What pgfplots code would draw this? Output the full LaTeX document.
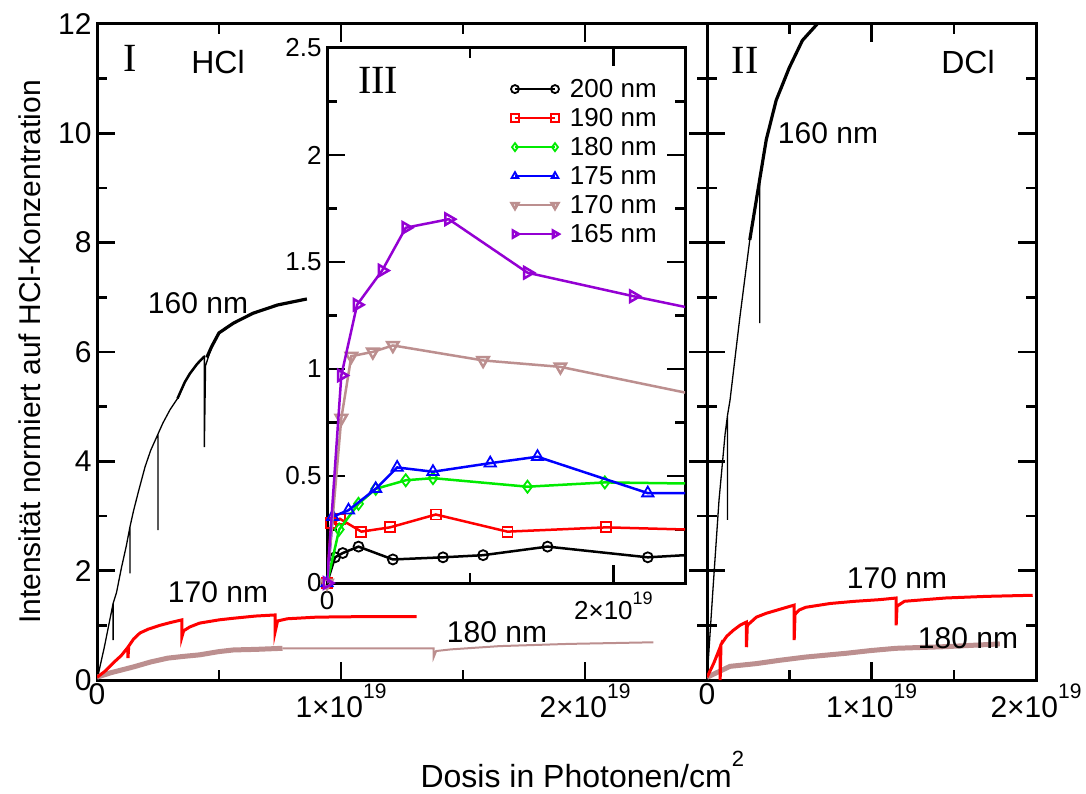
\documentclass[border=0pt]{standalone}
\usepackage{fontspec}
\setmainfont{Liberation Sans}
\newfontfamily\serif{Liberation Serif}
\usepackage{pgfplots}
\pgfplotsset{compat=1.18}
\definecolor{rb}{RGB}{188,143,143}
\definecolor{dv}{RGB}{148,0,211}
\definecolor{gr}{RGB}{0,235,0}
\newcommand\ex[1]{\raisebox{19pt}{\fontsize{21}{21}\selectfont #1}}
\newcommand\exs[1]{\raisebox{15pt}{\fontsize{18}{18}\selectfont #1}}
\begin{document}
\begin{tikzpicture}[x=1pt,y=1pt]
\path[use as bounding box] (0,0) rectangle (1086,793);
\pgfplotsset{
 base/.style={scale only axis, anchor=south west,
   axis line style={line width=3pt},
   tick style={black, line width=2.5pt},
   major tick length=18pt, minor tick length=10pt, tick align=inside,
   tick label style={font=\fontsize{30}{32}\selectfont},
   yticklabel style={xshift=-2pt},
   /pgf/number format/assume math mode=true},
}
% ---------------- Panel I
\begin{axis}[base, at={(97pt,113pt)}, width=610pt, height=656pt,
  xmin=0, xmax=2.5, ymin=0, ymax=12,
  xtick={0,1,2}, xticklabels={0,{1×10\ex{19}},{2×10\ex{19}}},
  minor xtick={0.5,1.5},
  ytick={0,2,4,6,8,10,12}, minor ytick={1,3,5,7,9,11}]
% 160 nm
\addplot[black, line width=1.3pt] coordinates {
(0,0) (0.03,0.6) (0.066,1.4) (0.066,0.73) (0.066,1.4) (0.08,1.6) (0.1,2.05) (0.12,2.45)
(0.135,2.8) (0.135,1.95) (0.135,2.8) (0.15,3.1) (0.17,3.45) (0.197,3.9) (0.22,4.2)
(0.25,4.5) (0.25,2.74) (0.25,4.5) (0.27,4.7) (0.3,4.95) (0.33,5.15) (0.36,5.45)
(0.38,5.6) (0.41,5.78) (0.44,5.92) (0.44,4.26) (0.445,5.75) (0.47,6.1) (0.5,6.35)
(0.56,6.53) (0.64,6.71) (0.74,6.86) (0.86,6.97)};
\addplot[black, line width=2.5pt] coordinates {
(0.33,5.15) (0.36,5.45) (0.38,5.6) (0.41,5.78) (0.44,5.92)};
\addplot[black, line width=3.2pt] coordinates {
(0.45,5.9) (0.47,6.1) (0.5,6.35) (0.56,6.53) (0.64,6.71) (0.74,6.86) (0.86,6.97)};
% 180 nm
\addplot[rb, line width=5pt] coordinates {
(0,0.05) (0.054,0.13) (0.15,0.24) (0.22,0.33) (0.29,0.4) (0.35,0.43) (0.42,0.46)
(0.5,0.52) (0.56,0.55) (0.65,0.56) (0.76,0.58)};
\addplot[rb, line width=2pt] coordinates {
(0.76,0.58) (1.0,0.58) (1.2,0.58) (1.38,0.58) (1.38,0.42) (1.39,0.53) (1.45,0.56)
(1.65,0.62) (1.93,0.66) (2.28,0.69)};
% 170 nm
\addplot[red, line width=3pt] coordinates {
(0,0.05) (0.03,0.15) (0.066,0.31) (0.1,0.45) (0.127,0.6) (0.127,0.4) (0.13,0.62)
(0.15,0.75) (0.176,0.86) (0.21,0.93) (0.258,1.0) (0.3,1.05) (0.348,1.1) (0.348,0.79)
(0.355,0.9) (0.38,0.97) (0.42,1.04) (0.5,1.1) (0.56,1.13) (0.65,1.17) (0.73,1.19)
(0.73,0.88) (0.74,1.08) (0.78,1.12) (0.9,1.15) (1.1,1.16) (1.31,1.16)};
\end{axis}
% ---------------- Panel II
\begin{axis}[base, at={(707pt,113pt)}, width=329pt, height=656pt,
  xmin=0, xmax=2, ymin=0, ymax=12,
  xtick={0,1,2}, xticklabels={0,{1×10\ex{19}},{2×10\ex{19}}},
  minor xtick={0.5,1.5},
  ytick={0,2,4,6,8,10,12}, minor ytick={1,3,5,7,9,11}, yticklabels={}]
\addplot[black, line width=1.3pt] coordinates {
(0,0) (0.036,1.65) (0.073,3.29) (0.11,4.5) (0.125,4.85) (0.125,2.93) (0.125,4.85)
(0.14,5.12) (0.2,6.64) (0.26,8.05) (0.32,9.15) (0.32,6.53) (0.32,9.15) (0.36,9.88)
(0.42,10.6) (0.5,11.2) (0.58,11.7) (0.67,12.0) (0.72,12.3)};
\addplot[black, line width=3.2pt] coordinates {
(0.26,8.05) (0.32,9.15) (0.36,9.88) (0.42,10.6) (0.5,11.2) (0.58,11.7) (0.67,12.0) (0.72,12.3)};
\addplot[rb, line width=5pt] coordinates {
(0,0.05) (0.14,0.25) (0.3,0.3) (0.44,0.36) (0.6,0.42) (0.85,0.49) (1.0,0.54)
(1.15,0.58) (1.45,0.61) (1.78,0.66)};
\addplot[red, line width=3pt] coordinates {
(0,0.05) (0.04,0.3) (0.08,0.6) (0.08,0) (0.085,0.65) (0.12,0.8) (0.16,0.91) (0.2,1.0)
(0.24,1.06) (0.24,0.6) (0.245,1.0) (0.3,1.15) (0.36,1.22) (0.45,1.3) (0.53,1.37)
(0.53,0.73) (0.535,1.2) (0.56,1.28) (0.6,1.33) (0.75,1.4) (0.9,1.44) (1.05,1.47)
(1.15,1.5) (1.15,1.0) (1.155,1.35) (1.2,1.44) (1.45,1.5) (1.7,1.53) (1.98,1.55)};
\end{axis}
% ---------------- Inset III
\begin{axis}[base, at={(327pt,210pt)}, width=358pt, height=535pt,
  axis background/.style={fill=white},
  clip mode=individual,
  xmin=0, xmax=2.5, ymin=0, ymax=2.5,
  tick label style={font=\fontsize{26}{28}\selectfont},
  xtick={0,2}, xticklabels={0,{2×10\exs{19}}}, minor xtick={1},
  ytick={0,0.5,1,1.5,2,2.5}, yticklabels={0,0.5,1,1.5,2,2.5},
  minor ytick={0.25,0.75,1.25,1.75,2.25},
  xticklabel style={yshift=-5pt},
  legend style={at={(0.505,0.946)}, anchor=north west, draw=none, fill=none,
    font=\fontsize{26}{28}\selectfont, row sep=9pt, column sep=11pt,
    nodes={inner sep=0pt, text height=18pt, text depth=2pt}},
  legend cell align=left,
  legend image code/.code={\draw[mark size=4pt] plot coordinates {(0pt,0pt) (40pt,0pt)};},
  every axis plot/.append style={line width=2.5pt, mark options={line width=1.8pt, solid}}]
\addplot[black, mark=o, mark size=5pt, mark indices={1,...,9}] coordinates {
(0,0) (0.056,0.12) (0.11,0.14) (0.22,0.17) (0.46,0.11) (0.81,0.12) (1.09,0.13) (1.54,0.17) (2.24,0.12) (2.5,0.13)};
\addlegendentry{200 nm}
\addplot[red, mark=square, mark size=5pt, mark indices={1,...,8}] coordinates {
(0,0) (0.03,0.28) (0.09,0.30) (0.24,0.24) (0.44,0.26) (0.76,0.32) (1.26,0.24) (1.95,0.26) (2.5,0.25)};
\addlegendentry{190 nm}
\addplot[gr, mark=diamond, mark size=6pt, mark indices={1,...,8}] coordinates {
(0,0) (0.085,0.25) (0.22,0.37) (0.34,0.44) (0.55,0.48) (0.74,0.49) (1.4,0.45) (1.94,0.47) (2.5,0.465)};
\addlegendentry{180 nm}
\addplot[blue, mark=triangle, mark size=6.5pt, mark indices={1,...,9}] coordinates {
(0,0) (0.04,0.31) (0.15,0.34) (0.34,0.44) (0.49,0.54) (0.74,0.52) (1.14,0.56) (1.47,0.59) (2.24,0.42) (2.5,0.42)};
\addlegendentry{175 nm}
\addplot[rb, mark=triangle, mark size=6.5pt, mark options={rotate=180}, mark indices={1,...,7}] coordinates {
(0,0) (0.1,0.77) (0.17,1.06) (0.32,1.08) (0.46,1.11) (1.09,1.04) (1.63,1.01) (2.5,0.89)};
\addlegendentry{170 nm}
\addplot[dv, mark=triangle, mark size=6.5pt, mark options={rotate=-90}, mark indices={1,...,8}] coordinates {
(0,0) (0.1,0.97) (0.21,1.30) (0.385,1.46) (0.55,1.66) (0.85,1.70) (1.4,1.45) (2.14,1.34) (2.5,1.29)};
\addlegendentry{165 nm}
\end{axis}
% ---------------- Texts
\node[font=\serif\fontsize{40}{40}\selectfont] at (130,735) {I};
\node[font=\fontsize{32}{32}\selectfont] at (218,731) {HCl};
\node[font=\fontsize{30}{30}\selectfont] at (198,490) {160 nm};
\node[font=\fontsize{30}{30}\selectfont] at (218,201) {170 nm};
\node[font=\fontsize{30}{30}\selectfont] at (497,161) {180 nm};
\node[font=\serif\fontsize{40}{40}\selectfont] at (745,733) {II};
\node[font=\fontsize{32}{32}\selectfont] at (968,731) {DCl};
\node[font=\fontsize{30}{30}\selectfont] at (828,660) {160 nm};
\node[font=\fontsize{30}{30}\selectfont] at (897,215) {170 nm};
\node[font=\fontsize{30}{30}\selectfont] at (968,155) {180 nm};
\node[font=\serif\fontsize{40}{40}\selectfont] at (378,713) {III};
\node[font=\fontsize{32}{32}\selectfont, anchor=base west] at (417,6) {Dosis in Photonen/cm\raisebox{21pt}{\fontsize{22}{22}\selectfont 2}};
\node[font=\fontsize{30}{30}\selectfont, rotate=90] at (30,441) {Intensität normiert auf HCl-Konzentration};
\end{tikzpicture}
\end{document}
